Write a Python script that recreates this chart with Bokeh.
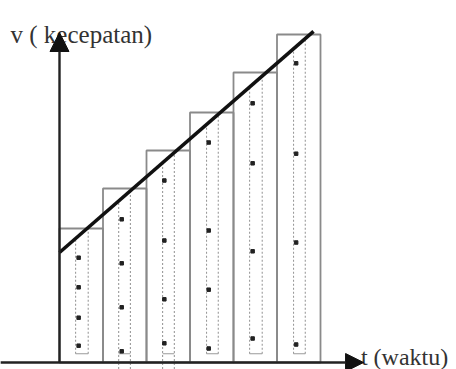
from bokeh.plotting import figure
from bokeh.models import Arrow, NormalHead, Range1d
from bokeh.core.properties import value
from bokeh.embed import file_html
from bokeh.resources import INLINE

# ---- data (time in interval units, velocity in arbitrary units) ----
t_left = [0, 1, 2, 3, 4, 5]
t_right = [1, 2, 3, 4, 5, 6]
v_rect = [3.35, 4.35, 5.3, 6.25, 7.25, 8.2]

line_t = [0.0, 5.84]
line_v = [2.75, 8.28]

strip_left = [0.37, 1.36, 2.37, 3.38, 4.37, 5.38]
strip_right = [0.66, 1.63, 2.64, 3.65, 4.66, 5.65]
strip_bottom = 0.22
strip_dash_bottom = [0.22, -0.16, -0.16, 0.22, 0.22, 0.22]

dot_t = [0.44, 1.43, 2.41, 3.43, 4.44, 5.44]
dot_v = [
    [2.62, 1.88, 1.12, 0.42],
    [3.58, 2.48, 1.38, 0.28],
    [4.55, 3.05, 1.58, 0.48],
    [5.5, 3.3, 1.82, 0.35],
    [6.48, 4.98, 2.78, 0.6],
    [7.48, 5.22, 3.0, 0.45],
]

t_axis_min = -1.36
t_axis_max = 6.99
v_axis_max = 8.25
x_label = "t (waktu)"
y_label = "v ( kecepatan)"

# ---- figure ----
p = figure(width=456, height=369, output_backend="svg", toolbar_location=None,
           x_range=Range1d(-1.3563, 9.1264), y_range=Range1d(-0.175, 9.05),
           min_border=0)
p.axis.visible = False
p.grid.visible = False
p.outline_line_color = None
p.background_fill_color = "white"

# outer rectangles
p.quad(left=t_left, right=t_right, bottom=0, top=v_rect,
       fill_color=None, line_color="#8a8a8a", line_width=1.8)

# inner dashed strips: verticals from the bottom up to the velocity line
def v_on_line(t):
    return line_v[0] + (line_v[1] - line_v[0]) * (t - line_t[0]) / (line_t[1] - line_t[0])

x0s, y0s, x1s, y1s = [], [], [], []
for l, r, b in zip(strip_left, strip_right, strip_dash_bottom):
    for xx in (l, r):
        x0s.append(xx); y0s.append(b); x1s.append(xx); y1s.append(v_on_line(xx))
p.segment(x0=x0s, y0=y0s, x1=x1s, y1=y1s, line_color="#9a9a9a",
          line_width=1.1, line_dash="2 2")
p.segment(x0=strip_left, y0=[strip_bottom] * 6, x1=strip_right, y1=[strip_bottom] * 6,
          line_color="#9a9a9a", line_width=1.1)

# dots
dx, dy = [], []
for t, vs in zip(dot_t, dot_v):
    for v in vs:
        dx.append(t); dy.append(v)
p.scatter(dx, dy, marker="square", size=3.5, color="#222222")

# velocity line
p.line(line_t, line_v, line_color="#111111", line_width=3.6)

# axes with arrow heads
p.add_layout(Arrow(end=NormalHead(size=19, fill_color="#111111", line_color="#111111"),
                   x_start=0, y_start=0, x_end=0, y_end=v_axis_max,
                   line_color="#222222", line_width=2.4))
p.add_layout(Arrow(end=NormalHead(size=18, fill_color="#111111", line_color="#111111"),
                   x_start=t_axis_min, y_start=0, x_end=t_axis_max, y_end=0,
                   line_color="#222222", line_width=2.4))

# labels
p.text(x=[-1.126], y=[8.2], text=[y_label], text_font=value("Liberation Serif"),
       text_font_size="25px", text_color="#333333", text_baseline="alphabetic")
p.text(x=[6.93], y=[0.15], text=[x_label], text_font=value("Liberation Serif"),
       text_font_size="24px", text_color="#333333", text_baseline="alphabetic")

open("out.html", "w").write(file_html(p, INLINE))
